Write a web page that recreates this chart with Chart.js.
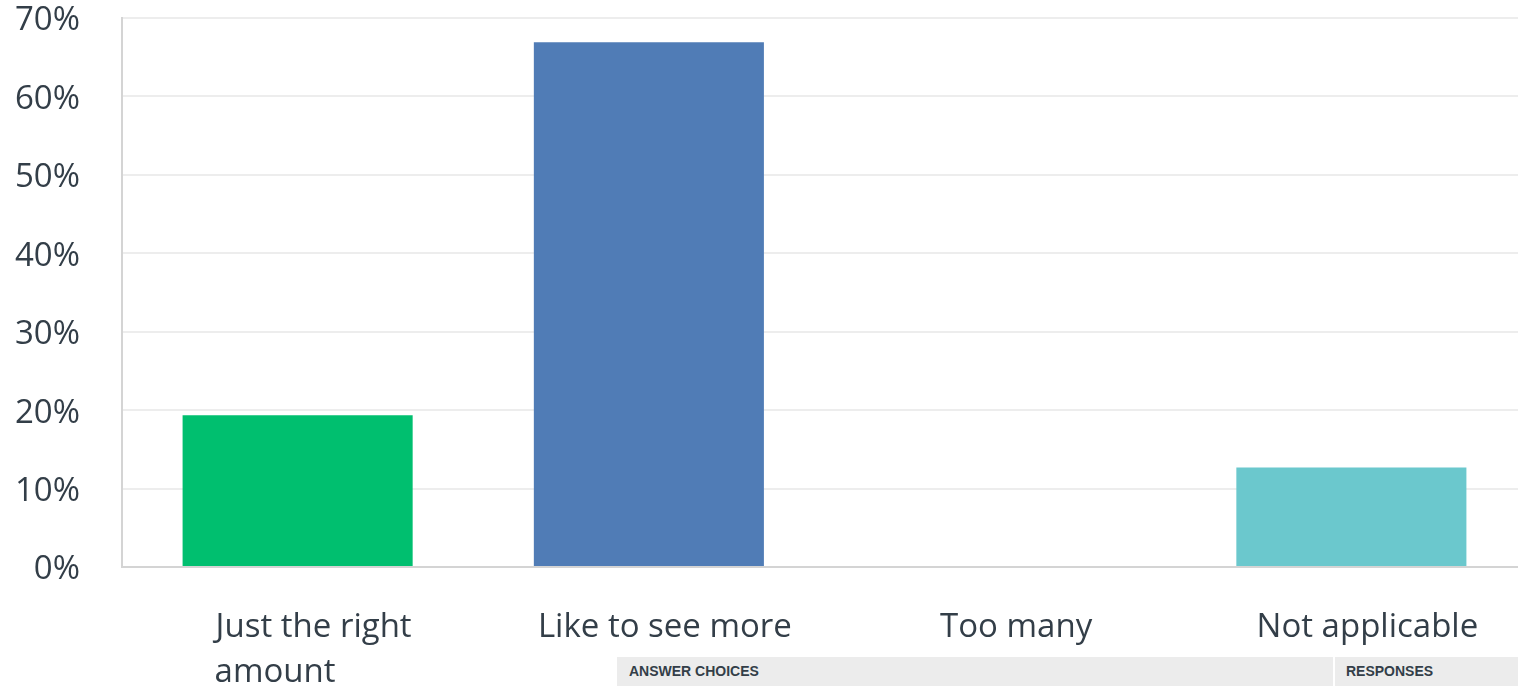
<!DOCTYPE html>
<html lang="en">
<head>
    <meta charset="UTF-8">
    <title>Answer choices</title>
    <style>
        body {
            margin: 0;
            background-color: #ffffff;
            font-family: "Liberation Sans", Arial, sans-serif;
            overflow: hidden;
        }

        .chart-box {
            position: absolute;
            left: 0;
            top: 0;
            width: 1530px;
            height: 686px;
        }

        /* table header under the chart */
        .table-head {
            position: absolute;
            left: 617px;
            top: 657px;
            width: 901px;
            height: 29px;
            background-color: #ececec;
            color: #333e48;
            font-size: 14px;
            font-weight: bold;
        }

        .table-head span {
            position: absolute;
            top: 6px;
        }

        .table-head .sep {
            position: absolute;
            left: 716px;
            top: 0;
            width: 2px;
            height: 29px;
            background-color: #ffffff;
        }
    </style>
</head>
<body>
    <div class="chart-box">
        <canvas id="barChart" width="1530" height="686"></canvas>
    </div>
    <div class="table-head">
        <span style="left: 12px;">ANSWER CHOICES</span>
        <div class="sep"></div>
        <span style="left: 729px;">RESPONSES</span>
    </div>

    <script src="https://cdn.jsdelivr.net/npm/chart.js"></script>
    <script>
        // data
        const categories = [
            ['Just the right', 'amount         '],
            'Like to see more',
            'Too many',
            'Not applicable'
        ];
        const responses = [19.35, 66.9, 0, 12.7];
        const barColors = ['#00bf6f', '#507cb6', '#f9be00', '#6bc8cd'];
        const yTicks = [0, 10, 20, 30, 40, 50, 60, 70];

        const textColor = '#333e48';
        const labelFont = '"Open Sans", "Liberation Sans", Arial, sans-serif';

        const ctx = document.getElementById('barChart').getContext('2d');
        const barChart = new Chart(ctx, {
            type: 'bar',
            data: {
                labels: categories,
                datasets: [{
                    label: 'Responses',
                    data: responses,
                    backgroundColor: barColors,
                    borderWidth: 0,
                    barPercentage: 0.655,
                    categoryPercentage: 1.0
                }]
            },
            options: {
                responsive: false,
                animation: false,
                layout: {
                    padding: { top: 18, right: 3, bottom: 0, left: 0 }
                },
                plugins: {
                    legend: { display: false },
                    tooltip: { enabled: false }
                },
                scales: {
                    x: {
                        grid: { display: false, drawTicks: false },
                        border: { color: '#d4d4d4', width: 2 },
                        ticks: {
                            color: textColor,
                            font: { size: 33, family: labelFont, lineHeight: 1.36 },
                            padding: 38,
                            labelOffset: 16,
                            maxRotation: 0,
                            autoSkip: false
                        },
                        afterFit: function(scale) {
                            scale.height = 119;
                        }
                    },
                    y: {
                        min: 0,
                        max: 70,
                        afterBuildTicks: function(scale) {
                            scale.ticks = yTicks.map(v => ({ value: v }));
                        },
                        grid: { color: '#ededed', lineWidth: 2, drawTicks: false },
                        border: { color: '#d4d4d4', width: 2 },
                        ticks: {
                            color: textColor,
                            font: { size: 33, family: labelFont, lineHeight: 1 },
                            padding: 42,
                            labelOffset: 3,
                            callback: function(value) {
                                return value + '%';
                            }
                        },
                        afterFit: function(scale) {
                            scale.width = 122;
                            // labels may hang over the top, like the original
                            scale.paddingTop = 0;
                            scale.paddingBottom = 0;
                        }
                    }
                }
            }
        });
    </script>
</body>
</html>
